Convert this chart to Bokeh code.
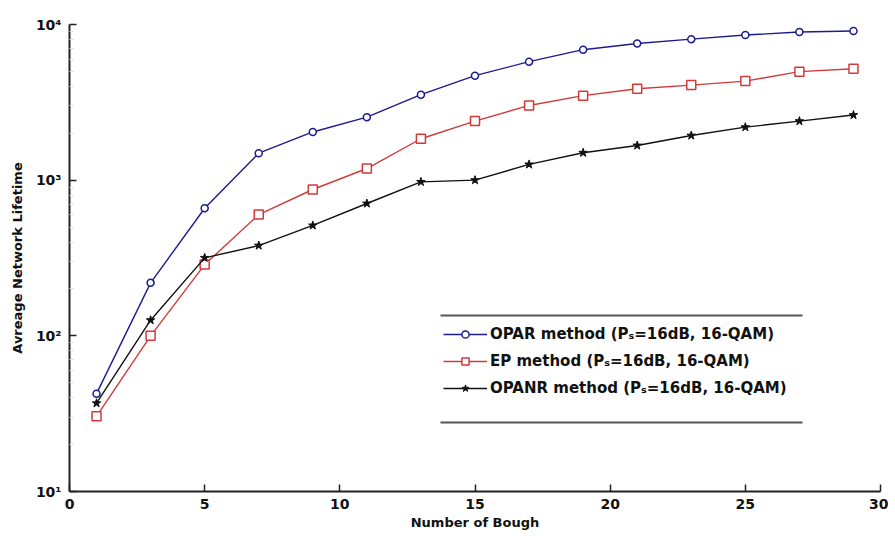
from bokeh.plotting import figure
from bokeh.models import Legend, LegendItem, FixedTicker, Range1d, BoxAnnotation
from bokeh.embed import file_html
from bokeh.resources import INLINE

# ---- data ----
bough = [1, 3, 5, 7, 9, 11, 13, 15, 17, 19, 21, 23, 25, 27, 29]
opar = [42.5, 219, 660, 1490, 2040, 2540, 3540, 4690, 5770, 6890, 7550, 8050, 8560, 8950, 9080]
ep = [30.4, 100, 287, 601, 871, 1188, 1845, 2395, 3020, 3490, 3865, 4080, 4330, 4980, 5200]
opanr = [36.9, 126, 317, 380, 512, 708, 975, 1000, 1262, 1500, 1670, 1935, 2190, 2395, 2620]

x_ticks = [0, 5, 10, 15, 20, 25, 30]
y_ticks = [10, 100, 1000, 10000]
y_tick_labels = ["10\u00b9", "10\u00b2", "10\u00b3", "10\u2074"]

labels = [
    "OPAR method (P\u209b=16dB, 16-QAM)",
    "EP method (P\u209b=16dB, 16-QAM)",
    "OPANR method (P\u209b=16dB, 16-QAM)",
]

FONT = "DejaVu Sans"

p = figure(
    output_backend="svg", toolbar_location=None,
    frame_width=811, frame_height=467,
    min_border_left=69, min_border_right=8, min_border_top=24, min_border_bottom=30,
    y_axis_type="log",
    x_range=Range1d(0, 30), y_range=Range1d(10, 10000),
    background_fill_color="white", border_fill_color="white",
)
p.outline_line_color = None
p.xgrid.visible = False
p.ygrid.visible = False

minor = [m * d for d in [10, 100, 1000] for m in range(2, 10)]
p.yaxis.ticker = FixedTicker(ticks=y_ticks, minor_ticks=minor)
p.yaxis.major_label_overrides = {t: l for t, l in zip(y_ticks, y_tick_labels)}
p.xaxis.ticker = FixedTicker(ticks=x_ticks)

for ax in (p.xaxis[0], p.yaxis[0]):
    ax.axis_line_color = "#222222"
    ax.axis_line_width = 2
    ax.major_tick_in = 7
    ax.major_tick_out = 0
    ax.major_tick_line_color = "#222222"
    ax.major_tick_line_width = 1.5
    ax.major_label_text_font = FONT
    ax.major_label_text_font_style = "bold"
    ax.major_label_text_font_size = "14px"
    ax.major_label_text_color = "#111111"
    ax.axis_label_text_font = FONT
    ax.axis_label_text_font_style = "bold"
    ax.axis_label_text_font_size = "13px"
    ax.axis_label_text_color = "#111111"

p.xaxis.minor_tick_line_color = None
p.yaxis.minor_tick_in = 4
p.yaxis.minor_tick_out = 0
p.yaxis.minor_tick_line_color = "#dddddd"
p.xaxis.axis_label = "Number of Bough"
p.yaxis.axis_label = "Avreage Network Lifetime"
p.xaxis.major_label_standoff = 7
p.xaxis.axis_label_standoff = 3
p.yaxis.major_label_standoff = 8
p.yaxis.axis_label_standoff = 8

BLUE = "#1c1c8e"
RED = "#d23a3a"
BLACK = "#111111"

l1 = p.line(bough, opar, line_color=BLUE, line_width=1.4)
s1 = p.scatter(bough, opar, marker="circle", size=7, line_color=BLUE, fill_color="white", line_width=1.5)
l2 = p.line(bough, ep, line_color=RED, line_width=1.4)
s2 = p.scatter(bough, ep, marker="square", size=9, line_color=RED, fill_color="white", line_width=1.5)
l3 = p.line(bough, opanr, line_color=BLACK, line_width=1.4)
s3 = p.scatter(bough, opanr, marker="star", size=9, line_color=BLACK, fill_color=BLACK, line_width=1)

legend = Legend(
    items=[
        LegendItem(label=labels[0], renderers=[l1, s1]),
        LegendItem(label=labels[1], renderers=[l2, s2]),
        LegendItem(label=labels[2], renderers=[l3, s3]),
    ],
    location=(374, 93),
    label_text_font=FONT,
    label_text_font_style="bold",
    label_text_font_size="15px",
    label_text_color="#111111",
    glyph_width=44,
    glyph_height=18,
    label_height=20,
    label_standoff=3,
    spacing=7,
    padding=0,
    margin=0,
    border_line_color=None,
    background_fill_alpha=0.0,
)
p.add_layout(legend)

# top and bottom rules of the legend box (screen units, from frame's bottom-left)
for top in (177, 70):
    p.add_layout(BoxAnnotation(left=371, right=733, top=top, bottom=top - 2,
                               left_units="screen", right_units="screen",
                               top_units="screen", bottom_units="screen",
                               fill_color="#555555", fill_alpha=1.0,
                               line_color=None, level="overlay"))

open("out.html", "w").write(file_html(p, INLINE))
